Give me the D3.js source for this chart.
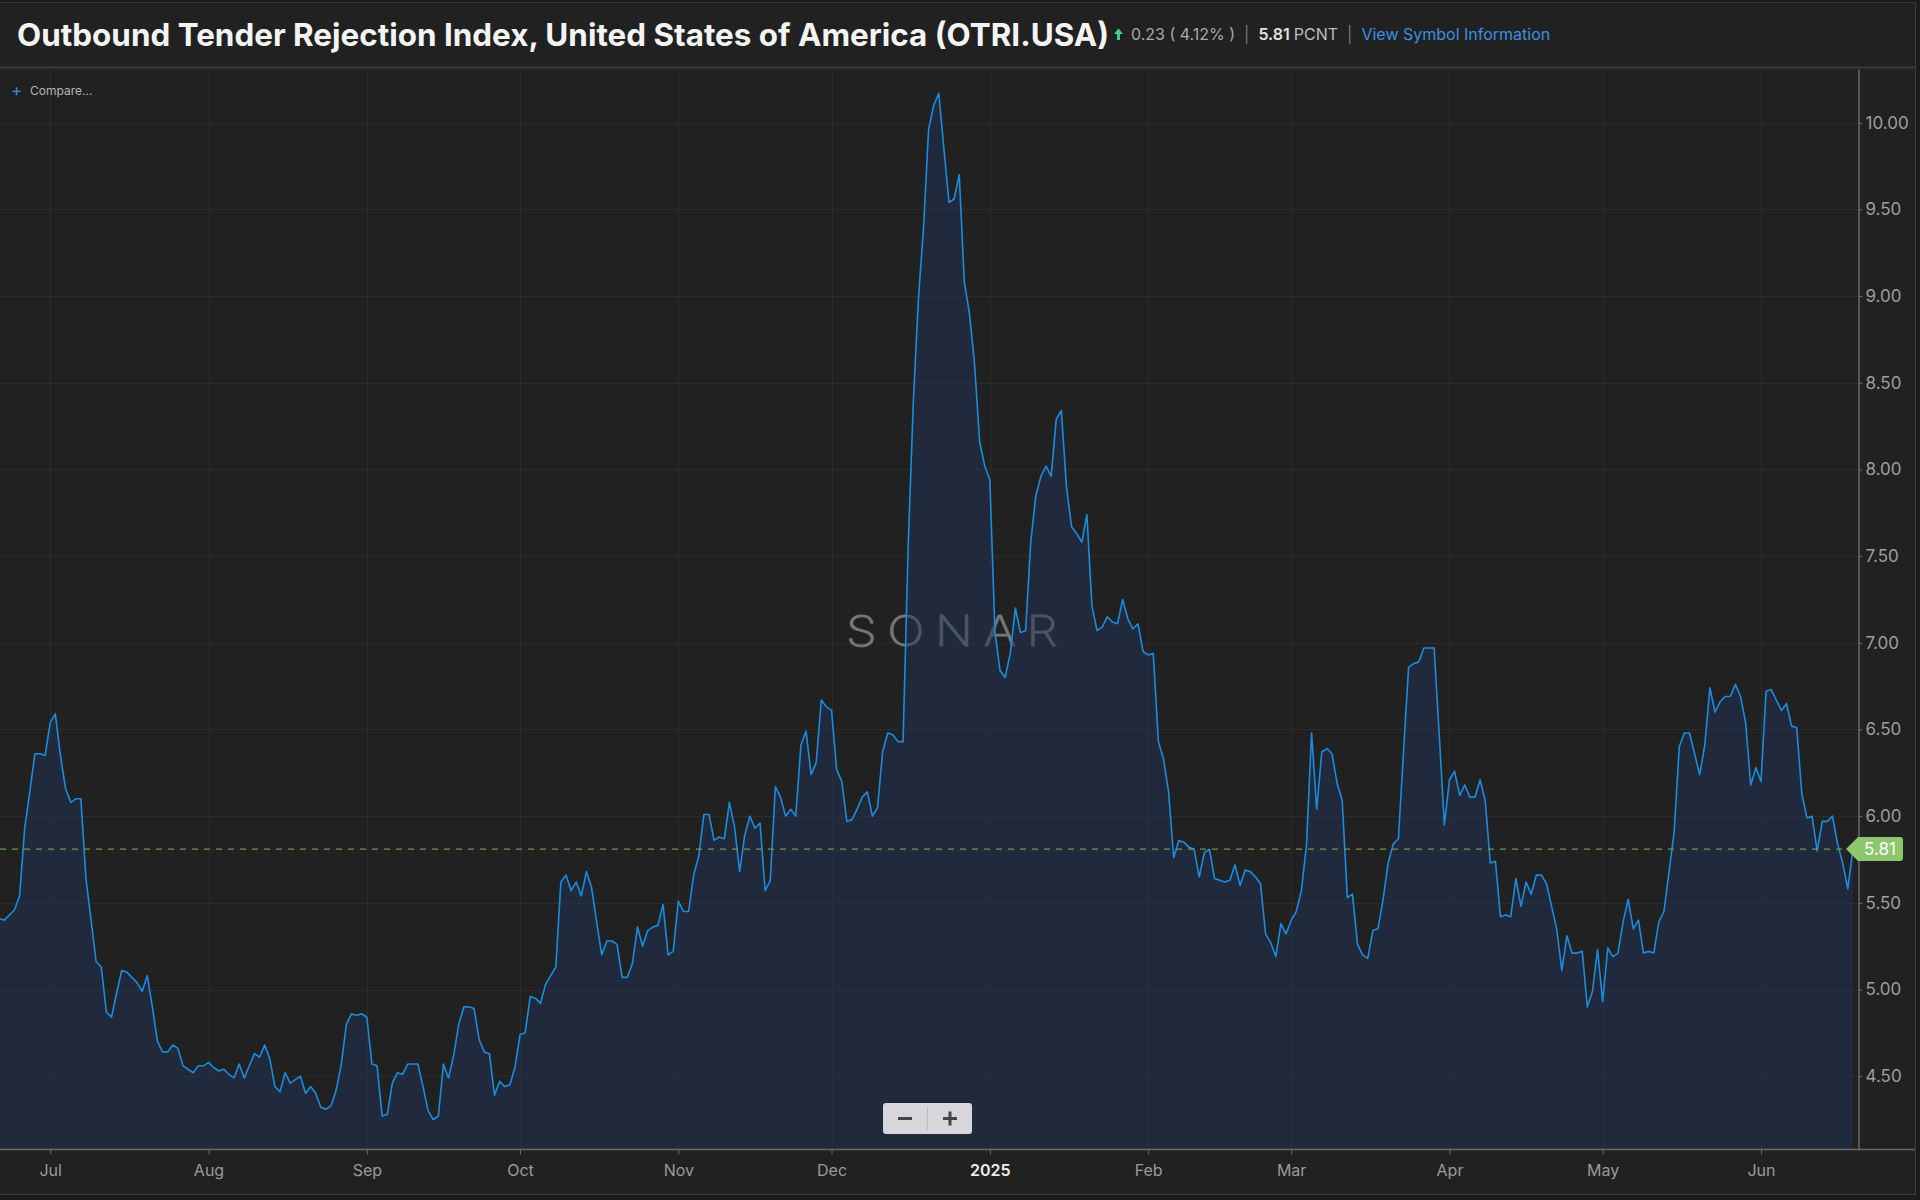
<!DOCTYPE html>
<html>
<head>
<meta charset="utf-8">
<script src="https://cdn.jsdelivr.net/npm/d3@7"></script>
<style>
  html, body { margin: 0; padding: 0; background: #1b1b1b; }
  svg { display: block; }
  text { font-family: Inter, "Noto Sans", sans-serif; }
</style>
</head>
<body>
<svg id="chart" width="1920" height="1200"></svg>
<script>
// daily OTRI.USA values, one array per month
var jun2024 = [5.33, 5.41, 5.40, 5.43, 5.46, 5.54, 5.93, 6.14, 6.36, 6.36, 6.35]; // Jun 20 - 30
var jul2024 = [6.54, 6.59, 6.35, 6.16, 6.08, 6.10, 6.10, 5.64, 5.40, 5.16, 5.13, 4.87, 4.84, 4.98, 5.11, 5.10,
               5.07, 5.04, 4.99, 5.08, 4.90, 4.70, 4.64, 4.64, 4.68, 4.66, 4.56, 4.54, 4.52, 4.56, 4.56];
var aug2024 = [4.58, 4.55, 4.53, 4.54, 4.51, 4.49, 4.57, 4.49, 4.56, 4.63, 4.61, 4.68, 4.60, 4.44, 4.41, 4.52,
               4.46, 4.48, 4.50, 4.40, 4.44, 4.40, 4.32, 4.31, 4.33, 4.42, 4.57, 4.80, 4.86, 4.85, 4.86];
var sep2024 = [4.84, 4.57, 4.56, 4.27, 4.28, 4.46, 4.52, 4.51, 4.57, 4.57, 4.57, 4.44, 4.30, 4.25, 4.27, 4.57,
               4.49, 4.62, 4.80, 4.90, 4.90, 4.89, 4.71, 4.64, 4.63, 4.39, 4.47, 4.44, 4.45, 4.55];
var oct2024 = [4.74, 4.75, 4.96, 4.95, 4.92, 5.03, 5.08, 5.13, 5.62, 5.66, 5.57, 5.62, 5.54, 5.68, 5.59, 5.39,
               5.20, 5.28, 5.28, 5.26, 5.07, 5.07, 5.15, 5.36, 5.25, 5.34, 5.36, 5.37, 5.49, 5.20, 5.22];
var nov2024 = [5.51, 5.45, 5.45, 5.66, 5.77, 6.01, 6.01, 5.86, 5.88, 5.87, 6.08, 5.94, 5.68, 5.89, 6.00, 5.93,
               5.96, 5.57, 5.63, 6.17, 6.11, 6.00, 6.04, 6.00, 6.41, 6.49, 6.24, 6.31, 6.67, 6.63];
var dec2024 = [6.61, 6.27, 6.20, 5.97, 5.98, 6.04, 6.11, 6.14, 6.00, 6.05, 6.37, 6.48, 6.47, 6.43, 6.43, 7.55,
               8.38, 8.98, 9.39, 9.96, 10.10, 10.17, 9.85, 9.54, 9.56, 9.70, 9.08, 8.90, 8.61, 8.16, 8.02];
var jan2025 = [7.94, 7.06, 6.84, 6.80, 6.94, 7.20, 7.06, 7.07, 7.58, 7.85, 7.96, 8.02, 7.96, 8.29, 8.34, 7.90,
               7.67, 7.63, 7.58, 7.74, 7.21, 7.07, 7.09, 7.15, 7.12, 7.11, 7.25, 7.14, 7.08, 7.11, 6.95];
var feb2025 = [6.93, 6.94, 6.43, 6.33, 6.14, 5.76, 5.86, 5.85, 5.82, 5.81, 5.65, 5.79, 5.81, 5.64, 5.63, 5.62,
               5.63, 5.72, 5.60, 5.69, 5.68, 5.65, 5.61, 5.32, 5.27, 5.19, 5.38, 5.32];
var mar2025 = [5.40, 5.45, 5.57, 5.83, 6.48, 6.04, 6.37, 6.39, 6.36, 6.19, 6.09, 5.53, 5.55, 5.26, 5.20, 5.18,
               5.34, 5.35, 5.52, 5.73, 5.84, 5.87, 6.37, 6.86, 6.88, 6.89, 6.97, 6.97, 6.97, 6.47, 5.95];
var apr2025 = [6.21, 6.26, 6.12, 6.18, 6.11, 6.11, 6.21, 6.09, 5.73, 5.74, 5.42, 5.43, 5.42, 5.64, 5.48, 5.62,
               5.55, 5.66, 5.66, 5.61, 5.48, 5.35, 5.11, 5.31, 5.21, 5.21, 5.22, 4.90, 4.99, 5.23];
var may2025 = [4.93, 5.24, 5.19, 5.21, 5.39, 5.52, 5.35, 5.40, 5.21, 5.22, 5.21, 5.39, 5.45, 5.68, 5.91, 6.40,
               6.48, 6.48, 6.36, 6.24, 6.41, 6.74, 6.60, 6.66, 6.69, 6.69, 6.76, 6.69, 6.54, 6.18, 6.28];
var jun2025 = [6.20, 6.72, 6.73, 6.67, 6.61, 6.65, 6.52, 6.51, 6.13, 5.99, 6.00, 5.80, 5.97, 5.97, 6.00, 5.84,
               5.73, 5.58, 5.81]; // Jun 1 - 19

var monthTicks = ["2024-07-01", "2024-08-01", "2024-09-01", "2024-10-01", "2024-11-01", "2024-12-01",
                  "2025-01-01", "2025-02-01", "2025-03-01", "2025-04-01", "2025-05-01", "2025-06-01"];
var monthLabels = ["Jul", "Aug", "Sep", "Oct", "Nov", "Dec", "2025", "Feb", "Mar", "Apr", "May", "Jun"];
var yTicks = [4.5, 5.0, 5.5, 6.0, 6.5, 7.0, 7.5, 8.0, 8.5, 9.0, 9.5, 10.0];

var lastValue = 5.81;
var change = "0.23";
var changePct = "4.12%";

var series = [
  ["2024-06-20", jun2024], ["2024-07-01", jul2024], ["2024-08-01", aug2024], ["2024-09-01", sep2024],
  ["2024-10-01", oct2024], ["2024-11-01", nov2024], ["2024-12-01", dec2024], ["2025-01-01", jan2025],
  ["2025-02-01", feb2025], ["2025-03-01", mar2025], ["2025-04-01", apr2025], ["2025-05-01", may2025],
  ["2025-06-01", jun2025]
];

var parse = d3.utcParse("%Y-%m-%d");
var data = [];
series.forEach(function (s) {
  var start = parse(s[0]);
  s[1].forEach(function (v, i) {
    data.push({ date: d3.utcDay.offset(start, i), value: v });
  });
});

var W = 1920, H = 1200;
var plot = { left: 0, right: 1858, top: 69, bottom: 1149 };

var svg = d3.select("#chart");

// panel background and frame
svg.append("rect").attr("x", 0).attr("y", 0).attr("width", W).attr("height", H).attr("fill", "#1b1b1b");
svg.append("rect").attr("x", 0).attr("y", 2).attr("width", 1915).attr("height", 1192).attr("fill", "#212121");
svg.append("line").attr("x1", 0).attr("x2", 1915).attr("y1", 2.5).attr("y2", 2.5).attr("stroke", "#363636");
svg.append("line").attr("x1", 0).attr("x2", 1915).attr("y1", 67.5).attr("y2", 67.5).attr("stroke", "#3a3a3a").attr("stroke-width", 2);
svg.append("line").attr("x1", 1915.5).attr("x2", 1915.5).attr("y1", 2).attr("y2", 1194).attr("stroke", "#3a3a3a");
svg.append("line").attr("x1", 0).attr("x2", 1916).attr("y1", 1194.5).attr("y2", 1194.5).attr("stroke", "#3a3a3a");

var x = d3.scaleUtc()
  .domain([new Date(Date.UTC(2024, 5, 21, 4)), new Date(Date.UTC(2025, 5, 20, 0))])
  .range([plot.left, plot.right]);
var y = d3.scaleLinear().domain([4.08, 10.31]).range([plot.bottom, plot.top]);

var tickDates = monthTicks.map(parse);

// grid
var grid = svg.append("g").attr("class", "grid");
grid.selectAll(".vgrid").data(tickDates).enter().append("line")
  .attr("x1", function (d) { return Math.round(x(d)) + 0.5; })
  .attr("x2", function (d) { return Math.round(x(d)) + 0.5; })
  .attr("y1", plot.top).attr("y2", plot.bottom)
  .attr("stroke", "#2c2c2c");
grid.selectAll(".hgrid").data(yTicks).enter().append("line")
  .attr("x1", plot.left).attr("x2", plot.right)
  .attr("y1", function (d) { return Math.round(y(d)) + 0.5; })
  .attr("y2", function (d) { return Math.round(y(d)) + 0.5; })
  .attr("stroke", "#2c2c2c");

// watermark
svg.append("text")
  .attr("x", 957).attr("y", 646)
  .attr("text-anchor", "middle")
  .attr("font-family", "'DejaVu Sans', sans-serif")
  .attr("font-weight", 200)
  .attr("font-size", 42)
  .attr("letter-spacing", 9)
  .attr("textLength", 222)
  .attr("lengthAdjust", "spacingAndGlyphs")
  .attr("fill", "#767676")
  .attr("stroke", "#767676").attr("stroke-width", 0.9)
  .text("SONAR");

svg.append("clipPath").attr("id", "plotclip").append("rect")
  .attr("x", plot.left).attr("y", plot.top)
  .attr("width", plot.right - plot.left).attr("height", plot.bottom - plot.top);

var area = d3.area()
  .x(function (d) { return x(d.date); })
  .y0(plot.bottom)
  .y1(function (d) { return y(d.value); });

var line = d3.line()
  .x(function (d) { return x(d.date); })
  .y(function (d) { return y(d.value); });

var g = svg.append("g").attr("clip-path", "url(#plotclip)");
g.append("path").datum(data).attr("d", area).attr("fill", "rgba(32,52,88,0.5)");
g.append("path").datum(data).attr("d", line)
  .attr("fill", "none").attr("stroke", "#1a8ce0").attr("stroke-width", 1.6)
  .attr("stroke-linejoin", "round");

// last value reference line
svg.append("line")
  .attr("x1", plot.left).attr("x2", plot.right)
  .attr("y1", y(lastValue)).attr("y2", y(lastValue))
  .attr("stroke", "#6c9a4e").attr("stroke-width", 1.3).attr("stroke-dasharray", "6,6");

// right axis
var yAxis = svg.append("g")
  .attr("transform", "translate(" + (plot.right + 0.5) + ",0)")
  .call(d3.axisRight(y).tickValues(yTicks).tickFormat(d3.format(".2f")).tickSize(4).tickSizeOuter(0));
yAxis.select(".domain").attr("stroke", "#6a6a6a").attr("stroke-width", 1.5);
yAxis.selectAll(".tick line").attr("stroke", "#6a6a6a");
yAxis.selectAll(".tick text").attr("fill", "#9e9e9e").attr("font-size", 17).attr("x", 7)
  .attr("font-family", "Inter, sans-serif");

// bottom axis
var xAxis = svg.append("g")
  .attr("transform", "translate(0," + (plot.bottom + 0.5) + ")")
  .call(d3.axisBottom(x).tickValues(tickDates)
    .tickFormat(function (d, i) { return monthLabels[i]; }).tickSize(5).tickSizeOuter(0));
xAxis.select(".domain").remove();
xAxis.append("line").attr("x1", 0).attr("x2", 1915).attr("stroke", "#6a6a6a").attr("stroke-width", 1.5);
xAxis.selectAll(".tick line").attr("stroke", "#6a6a6a");
xAxis.selectAll(".tick text")
  .attr("font-family", "Inter, sans-serif")
  .attr("font-size", 16).attr("dy", "1.15em")
  .attr("fill", function (d, i) { return monthLabels[i] === "2025" ? "#eeeeee" : "#9a9a9a"; })
  .attr("font-weight", function (d, i) { return monthLabels[i] === "2025" ? 600 : 400; });

// last value badge
var by = y(lastValue);
var badge = svg.append("g").attr("transform", "translate(0," + by + ")");
badge.append("path")
  .attr("d", "M1846,0 L1858,-12 L1900,-12 Q1903,-12 1903,-9 L1903,9 Q1903,12 1900,12 L1858,12 Z")
  .attr("fill", "#8cc66d");
badge.append("text")
  .attr("x", 1880).attr("y", 6).attr("text-anchor", "middle")
  .attr("font-size", 17).attr("fill", "#ffffff")
  .text(d3.format(".2f")(lastValue));

// compare link
svg.append("text").attr("x", 11).attr("y", 96).attr("font-size", 17).attr("fill", "#3d8fe0").text("+");
svg.append("text").attr("x", 30).attr("y", 95).attr("font-size", 12).attr("fill", "#b5b5b5").text("Compare...");

// title
svg.append("text")
  .attr("x", 17).attr("y", 46)
  .attr("font-size", 31.5).attr("font-weight", 700).attr("fill", "#f4f4f4")
  .attr("textLength", 1092).attr("lengthAdjust", "spacingAndGlyphs")
  .text("Outbound Tender Rejection Index, United States of America (OTRI.USA)");

// header stats
var hx = 1114;
svg.append("path")
  .attr("d", "M" + hx + ",34 L" + (hx + 4.5) + ",28.5 L" + (hx + 9) + ",34 L" + (hx + 6) + ",34 L" + (hx + 6) + ",40 L" + (hx + 3) + ",40 L" + (hx + 3) + ",34 Z")
  .attr("fill", "#3ecf8e");

var stats = svg.append("text").attr("x", 1131).attr("y", 40).attr("font-size", 16);
stats.append("tspan").attr("fill", "#a8a8a8").text(change + " ( " + changePct + " )");
stats.append("tspan").attr("fill", "#777777").attr("dx", 9).text("|");
stats.append("tspan").attr("fill", "#e2e2e2").attr("font-weight", 600).attr("dx", 9).text(d3.format(".2f")(lastValue));
stats.append("tspan").attr("fill", "#bdbdbd").attr("dx", 4).text("PCNT");
stats.append("tspan").attr("fill", "#777777").attr("dx", 9).text("|");
stats.append("tspan").attr("fill", "#3d8fe0").attr("dx", 9).text("View Symbol Information");

// zoom buttons
var zb = svg.append("g").attr("transform", "translate(883,1103)");
zb.append("rect").attr("width", 89).attr("height", 31).attr("rx", 3).attr("fill", "#d7d7db");
zb.append("line").attr("x1", 44.5).attr("x2", 44.5).attr("y1", 4).attr("y2", 27).attr("stroke", "#bdbdc2");
zb.append("rect").attr("x", 15).attr("y", 14).attr("width", 14).attr("height", 3).attr("fill", "#454545");
zb.append("rect").attr("x", 60).attr("y", 14).attr("width", 14).attr("height", 3).attr("fill", "#454545");
zb.append("rect").attr("x", 65.5).attr("y", 8.5).attr("width", 3).attr("height", 14).attr("fill", "#454545");
</script>
</body>
</html>
